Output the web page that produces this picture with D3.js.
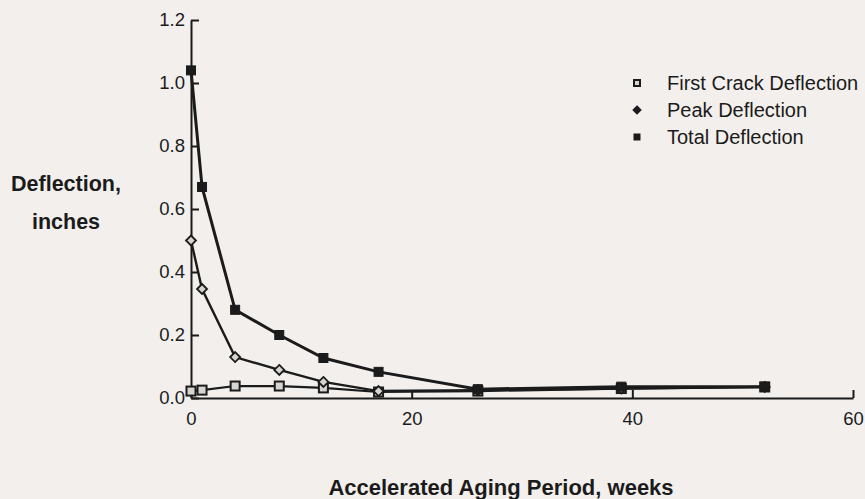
<html>
<head>
  <script src="https://d3js.org/d3.v7.min.js"></script>
  <style>
    body { margin: 0; background: #f3efed; }
    svg { display: block; }
    text { font-family: "Liberation Sans", Arial, sans-serif; fill: #1b1b1b; }
    .axis path, .axis line { stroke: #1b1b1b; stroke-width: 2px; }
    .axis text { font-size: 18.5px; fill: #1b1b1b; }
  </style>
</head>
<body>
  <svg id="chart" width="865" height="499"></svg>
  <script>
    const weeks = [0, 1, 4, 8, 12, 17, 26, 39, 52];
    const firstCrack = [0.022, 0.025, 0.038, 0.038, 0.032, 0.019, 0.022, 0.03, 0.035];
    const peak = [0.50, 0.346, 0.13, 0.089, 0.051, 0.022, 0.025, 0.03, 0.035];
    const total = [1.04, 0.67, 0.28, 0.20, 0.127, 0.083, 0.028, 0.036, 0.036];
    const seriesNames = ["First Crack Deflection", "Peak Deflection", "Total Deflection"];
    const xTicks = [0, 20, 40, 60];
    const yTicks = [0, 0.2, 0.4, 0.6, 0.8, 1.0, 1.2];

    const svg = d3.select("#chart");
    const x = d3.scaleLinear().domain([0, 60]).range([191, 853]);
    const y = d3.scaleLinear().domain([0, 1.2]).range([398, 20]);

    // axes, ticks point inward
    svg.append("g")
      .attr("class", "axis")
      .attr("transform", `translate(0,${y(0)})`)
      .call(d3.axisBottom(x).tickValues(xTicks).tickSize(-8).tickPadding(14).tickSizeOuter(0))
      .call(g => g.select(".domain").attr("stroke-width", 2.5));

    svg.append("g")
      .attr("class", "axis")
      .attr("transform", `translate(${x(0)},0)`)
      .call(d3.axisLeft(y).tickValues(yTicks).tickFormat(d3.format(".1f")).tickSize(-8).tickPadding(6).tickSizeOuter(0))
      .call(g => g.select(".domain").attr("stroke-width", 2.5));

    const series = [
      { name: seriesNames[0], values: firstCrack, shape: "open", width: 2.2 },
      { name: seriesNames[1], values: peak, shape: "diamond", width: 2.4 },
      { name: seriesNames[2], values: total, shape: "filled", width: 3 }
    ];

    const line = d3.line().x(d => x(d[0])).y(d => y(d[1]));

    const drawMarker = (g, shape, cx, cy, s, legendMark) => {
      if (shape === "diamond") {
        const r = s / 2 + 0.5;
        g.append("path")
          .attr("d", `M${cx},${cy - r}L${cx + r},${cy}L${cx},${cy + r}L${cx - r},${cy}Z`)
          .attr("fill", legendMark ? "#1b1b1b" : "#d8d4d0")
          .attr("stroke", "#1b1b1b").attr("stroke-width", 1.8);
      } else {
        g.append("rect")
          .attr("x", cx - s / 2).attr("y", cy - s / 2)
          .attr("width", s).attr("height", s)
          .attr("fill", shape === "filled" ? "#1b1b1b" : "#d8d4d0")
          .attr("stroke", "#1b1b1b").attr("stroke-width", shape === "filled" ? 1 : 2);
      }
    };

    series.forEach(s => {
      const pts = weeks.map((w, i) => [w, s.values[i]]);
      svg.append("path")
        .attr("d", line(pts))
        .attr("fill", "none")
        .attr("stroke", "#1b1b1b")
        .attr("stroke-width", s.width);
      const g = svg.append("g");
      pts.forEach(p => drawMarker(g, s.shape, x(p[0]), y(p[1]), 9, false));
    });

    // legend
    const legend = svg.append("g");
    series.forEach((s, i) => {
      const ly = 83 + i * 27;
      drawMarker(legend, s.shape, 637, ly, 6, true);
      legend.append("text")
        .attr("x", 667).attr("y", ly + 7)
        .style("font-size", "20px")
        .text(s.name);
    });

    // axis titles
    svg.append("text")
      .attr("x", 66).attr("y", 191)
      .attr("text-anchor", "middle")
      .style("font-size", "21.5px").style("font-weight", "bold")
      .text("Deflection,");
    svg.append("text")
      .attr("x", 66).attr("y", 229)
      .attr("text-anchor", "middle")
      .style("font-size", "21.5px").style("font-weight", "bold")
      .text("inches");
    svg.append("text")
      .attr("x", 501).attr("y", 495)
      .attr("text-anchor", "middle")
      .style("font-size", "22px").style("font-weight", "bold")
      .text("Accelerated Aging Period, weeks");
  </script>
</body>
</html>
